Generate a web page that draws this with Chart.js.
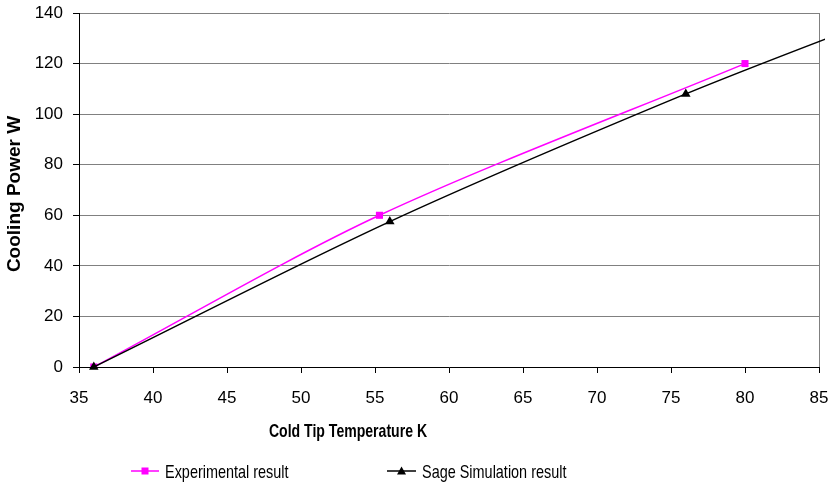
<!DOCTYPE html>
<html>
<head>
<meta charset="utf-8">
<script src="https://cdn.jsdelivr.net/npm/chart.js@4"></script>
<style>
  html, body { margin: 0; padding: 0; background: #fff; }
  #wrap { width: 832px; height: 486px; }
</style>
</head>
<body>
<div id="wrap"><canvas id="coolingChart" width="832" height="486"></canvas></div>
<script>
// measured points
const expTemp = [36, 55.3, 80];
const expPower = [0, 60, 120];
const simTemp = [36, 56, 76, 90];
const simPower = [0, 57.5, 108, 140];

const xTicks = [35, 40, 45, 50, 55, 60, 65, 70, 75, 80, 85];
const yTicks = [0, 20, 40, 60, 80, 100, 120, 140];

const xTitle = 'Cold Tip Temperature K';
const yTitle = 'Cooling Power W';
const legendLabels = ['Experimental result', 'Sage Simulation result'];

document.addEventListener('DOMContentLoaded', function() {
    const ctx = document.getElementById('coolingChart').getContext('2d');
    const tickFont = { family: '"Liberation Sans", Arial, sans-serif', size: 17 };

    function toPoints(xs, ys) {
        return xs.map((x, i) => ({ x: x, y: ys[i] }));
    }

    // the original text is a condensed face, so squeeze it horizontally
    function narrowText(ctx, text, x, y, squeeze) {
        ctx.save();
        ctx.translate(x, y);
        ctx.scale(squeeze, 1);
        ctx.fillText(text, 0, 0);
        ctx.restore();
    }

    // frame, axis titles and legend
    const extrasPlugin = {
        id: 'extras',
        beforeDatasetsDraw: (chart) => {
            const { ctx, chartArea } = chart;
            ctx.save();
            ctx.strokeStyle = '#808080';
            ctx.lineWidth = 1;
            ctx.beginPath();
            ctx.moveTo(Math.round(chartArea.right) + 0.5, chartArea.top);
            ctx.lineTo(Math.round(chartArea.right) + 0.5, chartArea.bottom);
            ctx.stroke();
            ctx.restore();
        },
        afterDraw: (chart) => {
            const { ctx } = chart;
            ctx.save();
            ctx.fillStyle = '#000';
            ctx.textAlign = 'center';
            ctx.textBaseline = 'alphabetic';

            ctx.font = 'bold 18.5px "Liberation Sans", Arial, sans-serif';
            narrowText(ctx, xTitle, 348, 437, 0.76);

            ctx.save();
            ctx.translate(15, 194);
            ctx.rotate(-Math.PI / 2);
            ctx.textBaseline = 'middle';
            ctx.font = 'bold 19px "Liberation Sans", Arial, sans-serif';
            ctx.fillText(yTitle, 0, 0);
            ctx.restore();

            // legend
            const y = 471;
            const items = [
                { x0: 131, x1: 159, color: '#FF00FF', style: 'rect', textX: 165 },
                { x0: 387, x1: 416, color: '#000000', style: 'triangle', textX: 422 }
            ];
            ctx.font = '19px "Liberation Sans", Arial, sans-serif';
            ctx.textAlign = 'left';
            items.forEach((it, i) => {
                ctx.strokeStyle = it.color;
                ctx.lineWidth = 1.5;
                ctx.beginPath();
                ctx.moveTo(it.x0, y);
                ctx.lineTo(it.x1, y);
                ctx.stroke();
                ctx.fillStyle = it.color;
                const cx = (it.x0 + it.x1) / 2;
                if (it.style === 'rect') {
                    ctx.fillRect(cx - 3.5, y - 3.5, 7, 7);
                } else {
                    ctx.beginPath();
                    ctx.moveTo(cx, y - 4.5);
                    ctx.lineTo(cx + 4.5, y + 3.5);
                    ctx.lineTo(cx - 4.5, y + 3.5);
                    ctx.closePath();
                    ctx.fill();
                }
                ctx.fillStyle = '#000';
                narrowText(ctx, legendLabels[i], it.textX, 478, 0.76);
            });
            ctx.restore();
        }
    };

    new Chart(ctx, {
        type: 'line',
        plugins: [extrasPlugin],
        data: {
            datasets: [{
                label: legendLabels[0],
                data: toPoints(expTemp, expPower),
                borderColor: '#FF00FF',
                backgroundColor: '#FF00FF',
                borderWidth: 1.5,
                tension: 0.3,
                pointStyle: 'rect',
                pointRadius: 5,
                pointBorderWidth: 0,
                fill: false,
                order: 1
            }, {
                label: legendLabels[1],
                data: toPoints(simTemp, simPower),
                borderColor: '#000000',
                backgroundColor: '#000000',
                borderWidth: 1.5,
                tension: 0.3,
                pointStyle: 'triangle',
                pointRadius: 5.5,
                pointBorderWidth: 0,
                fill: false,
                clip: { left: 6, top: 6, right: 6, bottom: 6 },
                order: 0
            }]
        },
        options: {
            responsive: false,
            animation: false,
            layout: {
                padding: { left: 0, top: 13, right: 13, bottom: 0 }
            },
            plugins: {
                legend: { display: false },
                tooltip: { enabled: false }
            },
            scales: {
                x: {
                    type: 'linear',
                    min: 35,
                    max: 85,
                    afterFit: (scale) => {
                        scale.height = 119;
                        scale.paddingLeft = 0;
                        scale.paddingRight = 0;
                    },
                    afterBuildTicks: (scale) => {
                        scale.ticks = xTicks.map(v => ({ value: v }));
                    },
                    ticks: {
                        font: tickFont,
                        color: '#000',
                        padding: 15,
                        maxRotation: 0
                    },
                    grid: {
                        drawOnChartArea: false,
                        drawTicks: true,
                        tickLength: 6,
                        tickColor: '#000'
                    },
                    border: { color: '#000' }
                },
                y: {
                    min: 0,
                    max: 140,
                    afterFit: (scale) => {
                        scale.width = 79;
                        scale.paddingTop = 0;
                        scale.paddingBottom = 0;
                    },
                    afterBuildTicks: (scale) => {
                        scale.ticks = yTicks.map(v => ({ value: v }));
                    },
                    ticks: {
                        font: tickFont,
                        color: '#000',
                        padding: 10
                    },
                    grid: {
                        color: '#808080',
                        tickLength: 6,
                        tickColor: '#000'
                    },
                    border: { color: '#000' }
                }
            }
        }
    });
});
</script>
</body>
</html>
